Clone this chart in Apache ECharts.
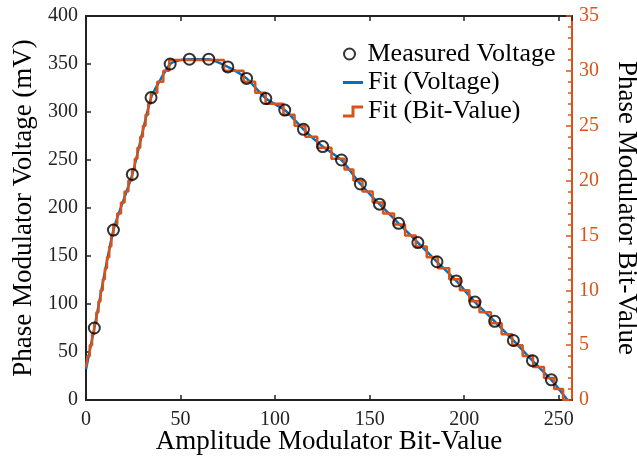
<!DOCTYPE html>
<html><head><meta charset="utf-8">
<script src="https://cdn.jsdelivr.net/npm/echarts@6/dist/echarts.min.js"></script>
<style>html,body{margin:0;padding:0;background:#fff}#c{width:637px;height:458px}</style>
</head><body><div id="c"></div>
<script>
// Measured points (Amplitude Modulator Bit-Value, Phase Modulator Voltage in mV)
const measuredX = [4.4,14.5,24.5,34.4,44.5,54.7,64.9,75.0,84.9,95.1,105.1,115.0,125.2,135.1,145.1,155.2,165.3,175.5,185.6,195.8,205.7,216.1,226.0,236.1,246.1];
const measuredV = [75,177,235,315,350,355,355,347,335,314,302,282,264,250,225,204,184,164,144,124,102,82,62,41,21];
// Fit (Voltage) knots
const fitX = [0,4.4,14.5,24.5,34.4,39.7,44.5,49.6,54.7,64.9,75.0,84.9,95.1,105.1,115.0,125.2,135.1,145.1,155.2,165.3,175.5,185.6,195.8,205.7,216.1,226.0,236.1,246.1,254.6];
const fitV = [32,75,177,235,315,335,350,354,355,355,347,335,314,302,282,264,250,225,204,184,164,144,124,102,82,62,41,21,0];
// Fit (Bit-Value) staircase: start of each level and the level
const stepX = [0,0.8,2.0,3.2,4.3,5.5,6.6,7.7,8.9,10.0,11.1,12.3,13.4,14.5,16.5,18.5,20.4,22.4,24.4,25.8,27.2,28.7,30.1,31.5,32.9,34.3,37.7,40.9,44.0,
  73.0,83.3,89.5,95.0,104.4,110.3,116.0,122.3,129.8,136.7,141.4,146.2,151.6,157.1,162.9,168.7,174.4,180.2,186.1,192.1,197.7,202.7,208.1,214.1,219.8,225.4,230.9,236.4,242.2,247.6,252.3,255.5];
const stepBits = [3,4,5,6,7,8,9,10,11,12,13,14,15,16,17,18,19,20,21,22,23,24,25,26,27,28,29,30,31,
  30,29,28,27,26,25,24,23,22,21,20,19,18,17,16,15,14,13,12,11,10,9,8,7,6,5,4,3,2,1,0,0];
// Axis ticks
const xTicks = [0,50,100,150,200,250];
const xMax = 257;
const yLeftTicks = [0,50,100,150,200,250,300,350,400];
const yRightTicks = [0,5,10,15,20,25,30,35];

const FONT = 'Liberation Serif';
const BLUE = '#0072BD', ORANGE = '#D95319', AX = '#222';
const zip = (a, b) => a.map((v, i) => [v, b[i]]);

const chart = echarts.init(document.getElementById('c'), null, {renderer: 'canvas'});
const legendText = {fontFamily: FONT, fontSize: 26, color: '#000', lineHeight: 26};
chart.setOption({
  animation: false,
  backgroundColor: '#fff',
  grid: {left: 86, right: 65, top: 16, bottom: 58, containLabel: false, outerBoundsMode: 'none'},
  xAxis: [{
    type: 'value', position: 'bottom',
    min: xTicks[0], max: xMax, interval: xTicks[1] - xTicks[0],
    name: 'Amplitude Modulator Bit-Value', nameLocation: 'middle', nameGap: 28, nameMoveOverlap: false,
    nameTextStyle: {fontFamily: FONT, fontSize: 27, color: '#000'},
    axisLine: {onZero: false, lineStyle: {color: AX, width: 2}},
    axisTick: {inside: true, length: 5, lineStyle: {color: AX, width: 1.5}},
    axisLabel: {fontFamily: FONT, fontSize: 20, color: '#222', margin: 10, showMaxLabel: false},
    splitLine: {show: false}
  }, {
    type: 'value', position: 'top',
    min: xTicks[0], max: xMax, interval: xTicks[1] - xTicks[0],
    axisLine: {onZero: false, lineStyle: {color: AX, width: 2}},
    axisTick: {inside: true, length: 5, lineStyle: {color: AX, width: 1.5}},
    axisLabel: {show: false},
    splitLine: {show: false}
  }],
  yAxis: [{
    type: 'value', position: 'left',
    min: yLeftTicks[0], max: yLeftTicks[yLeftTicks.length - 1], interval: yLeftTicks[1] - yLeftTicks[0],
    name: 'Phase Modulator Voltage (mV)', nameLocation: 'middle', nameGap: 49,
    nameTextStyle: {fontFamily: FONT, fontSize: 27, color: '#000'},
    axisLine: {show: true, onZero: false, lineStyle: {color: AX, width: 2}},
    axisTick: {show: true, inside: true, length: 5, lineStyle: {color: AX, width: 1.5}},
    axisLabel: {fontFamily: FONT, fontSize: 20, color: '#222', margin: 8},
    splitLine: {show: false}
  }, {
    type: 'value', position: 'right',
    min: yRightTicks[0], max: yRightTicks[yRightTicks.length - 1], interval: yRightTicks[1] - yRightTicks[0],
    name: 'Phase Modulator Bit-Value', nameLocation: 'middle', nameGap: 41, nameRotate: -90,
    nameTextStyle: {fontFamily: FONT, fontSize: 27, color: '#000'},
    axisLine: {show: true, onZero: false, lineStyle: {color: ORANGE, width: 2}},
    axisTick: {show: true, inside: true, length: 6, lineStyle: {color: ORANGE, width: 1.5}},
    minorTick: {show: true, splitNumber: 5, length: 4, lineStyle: {color: ORANGE, width: 1.5}},
    axisLabel: {fontFamily: FONT, fontSize: 20, color: ORANGE, margin: 7},
    splitLine: {show: false}
  }],
  legend: [{
    data: [{name: 'Measured Voltage', icon: 'circle', itemStyle: {color: 'rgba(0,0,0,0)', borderColor: '#000', borderWidth: 2}}],
    left: 343, top: 41, itemWidth: 12, itemHeight: 11, padding: 0, selectedMode: false,
    textStyle: Object.assign({}, legendText, {padding: [0, 0, 0, 7]})
  }, {
    data: [{name: 'Fit (Voltage)', icon: 'rect', itemStyle: {color: BLUE}}],
    left: 343, top: 69.5, itemWidth: 20, itemHeight: 3, padding: 0, selectedMode: false,
    textStyle: legendText
  }, {
    data: [{name: 'Fit (Bit-Value)', icon: 'path://M0,9 L8.5,9 L8.5,0 L20,0 L20,3 L11.5,3 L11.5,12 L0,12 Z', itemStyle: {color: ORANGE}}],
    left: 343, top: 98.5, itemWidth: 20, itemHeight: 12, padding: 0, selectedMode: false,
    textStyle: legendText
  }],
  series: [{
    name: 'Fit (Voltage)', type: 'line', xAxisIndex: 0, yAxisIndex: 0,
    data: zip(fitX, fitV), smooth: 0.2, showSymbol: false, z: 3,
    lineStyle: {color: BLUE, width: 2.5}, itemStyle: {color: BLUE}
  }, {
    name: 'Fit (Bit-Value)', type: 'line', xAxisIndex: 0, yAxisIndex: 1,
    data: zip(stepX, stepBits), step: 'end', showSymbol: false, z: 4,
    lineStyle: {color: ORANGE, width: 2.5}, itemStyle: {color: ORANGE}
  }, {
    name: 'Measured Voltage', type: 'scatter', xAxisIndex: 0, yAxisIndex: 0,
    data: zip(measuredX, measuredV), symbol: 'circle', symbolSize: 11, z: 5,
    itemStyle: {color: 'rgba(0,0,0,0)', borderColor: '#000', borderWidth: 2}
  }]
});
</script></body></html>
